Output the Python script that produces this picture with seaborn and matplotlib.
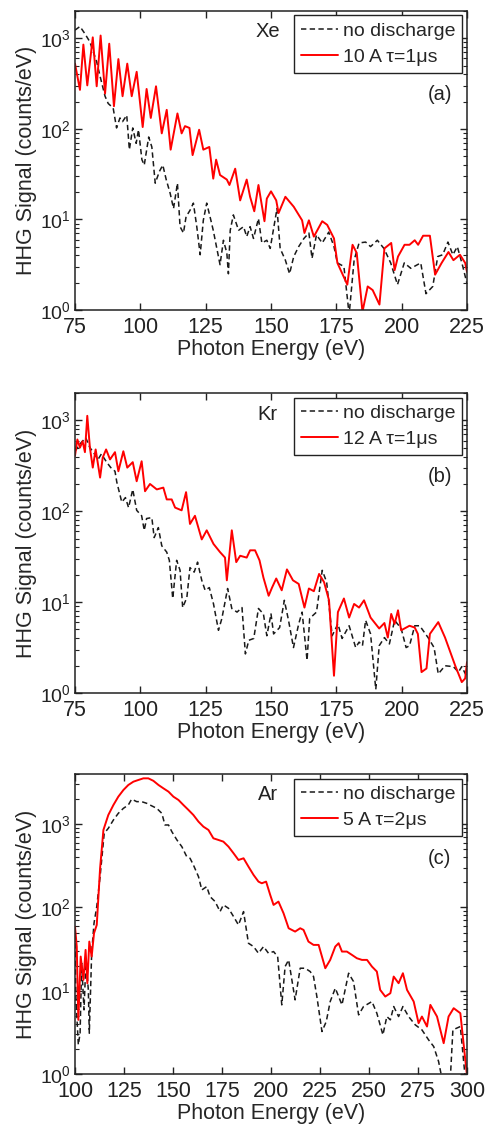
import numpy as np
import pandas as pd
import matplotlib
matplotlib.use("Agg")
import matplotlib.pyplot as plt
import seaborn as sns
from matplotlib.ticker import FixedLocator, LogLocator, NullFormatter

# ---------------- data (photon energy in eV, signal given as log10 of counts/eV) ----------------
xe_nodis_x = [75, 76.9, 78.8, 80.7, 83.3, 84.6, 86.5, 87.7, 89.6, 90.9, 92.2, 93.2, 94.8, 95.8, 97.1, 98.4, 99.3,
              100.6, 101.5, 103.2, 104.4, 105.7, 107.3, 108.6, 109.9, 111.4, 112.7, 114.2, 115.2, 116.5, 117.5, 119,
              120.3, 121.6, 122.9, 124.1, 125.4, 127, 127.9, 130.5, 131.8, 133.1, 133.7, 134.4, 135.6, 137.6, 139.5,
              140.7, 142, 143.3, 145.2, 146.5, 148.4, 149.7, 152.3, 153.5, 155.5, 157.1, 158.7, 160.6, 162.6, 164.5,
              165.7, 167.4, 169.6, 172.1, 174.1, 175.4, 177.9, 179.9, 181.8, 183.7, 186.2, 188.1, 190.7, 193.2, 195.8,
              198.4, 201, 203.5, 207.3, 209.3, 211.9, 213.8, 215.7, 217.7, 219.6, 221.3, 223.4, 225]
xe_nodis_log = [3.09, 3.13, 3.05, 2.96, 2.74, 2.58, 2.36, 2.28, 2.23, 2.01, 2.12, 2.08, 2.15, 1.77, 2.01, 1.84, 1.99,
                1.66, 1.60, 1.91, 1.80, 1.40, 1.53, 1.60, 1.44, 1.29, 1.12, 1.40, 0.92, 0.85, 1.03, 1.10,
                1.18, 0.92, 0.61, 0.99, 1.18, 0.99, 0.88, 0.50, 0.77, 0.63, 0.40, 0.88, 1.05, 0.88, 0.92,
                0.81, 0.92, 0.79, 1.01, 0.74, 0.77, 0.68, 1.12, 0.68, 0.55, 0.40, 0.59, 0.70, 0.79, 0.85,
                0.57, 0.83, 0.74, 0.86, 0.70, 0.52, 0.48, -0.05, 0.55, 0.74, 0.75, 0.70, 0.77, 0.68, 0.52,
                0.28, 0.52, 0.46, 0.52, 0.18, 0.26, 0.59, 0.61, 0.75, 0.61, 0.70, 0.48, 0.29]
xe_dis_x = [75, 76.9, 78.2, 79.7, 81.8, 83.3, 84.8, 86.5, 88.1, 89.9, 91.6, 93.2, 95, 96.7, 98.6, 100.9, 102.4, 104,
            106, 108.2, 110.1, 111.6, 114.2, 115.8, 117.1, 118.8, 120.0, 122.5, 124.1, 126.4, 127.9, 129, 130.5,
            133.1, 134.1, 136.3, 138.2, 140.7, 142, 143.6, 145.2, 147.5, 148.4, 150, 152, 152.9, 155.5, 158.7,
            161.9, 162.8, 164.5, 166.4, 169.6, 171.5, 174.1, 175.4, 179.2, 181.2, 182.8, 185, 187, 188.9, 191.5,
            193.4, 196, 197.3, 198.6, 201.1, 203, 205, 206.3, 208.2, 210.8, 212.8, 215.3, 217.9, 219.8, 222.3,
            224.3, 225]
xe_dis_log = [2.72, 2.43, 2.93, 2.48, 3.01, 2.47, 3.03, 2.39, 2.94, 2.25, 2.77, 2.36, 2.72, 2.36, 2.63, 2.02, 2.44,
              2.12, 2.47, 1.95, 2.21, 1.77, 2.17, 1.95, 2.03, 2.01, 1.71, 1.99, 1.77, 1.80, 1.45, 1.66, 1.49,
              1.44, 1.38, 1.56, 1.21, 1.44, 1.25, 1.09, 1.38, 0.98, 1.23, 1.31, 1.21, 1.07, 1.25, 1.14,
              0.99, 0.85, 0.99, 0.81, 0.98, 0.94, 0.79, 0.52, 0.28, 0.72, 0.63, -0.02, 0.26, 0.22, 0.06,
              0.68, 0.74, 0.44, 0.59, 0.72, 0.72, 0.77, 0.72, 0.82, 0.82, 0.39, 0.52, 0.64, 0.55, 0.61,
              0.52, 0.42]

kr_nodis_x = [75, 76.9, 79.1, 80.7, 82, 83.8, 85.1, 87.1, 88.7, 90.3, 91, 92.9, 94.3, 95.5, 97.1, 98.6, 100.5, 101.5,
              102.4, 104.4, 105.3, 106.9, 108.2, 110.1, 111.1, 112.4, 113.9, 115.2, 116.2, 117.8, 119, 120.6, 121.9,
              123.5, 124.8, 126.4, 128, 129.9, 131.2, 133.4, 135, 137, 138.9, 140.2, 141.5, 143.4, 145.2, 147.1,
              148.4, 150, 151, 153.3, 155.1, 156.7, 158.6, 160.6, 161.9, 163.8, 164.8, 167.4, 169.6, 171.3, 173.4,
              175.6, 177.2, 179.9, 182.4, 183.7, 185, 186.2, 188.1, 190.1, 191.4, 193.4, 195.3, 197.3, 199.8, 201.7,
              203, 205, 206.9, 210.1, 212.4, 214, 216.6, 219.8, 221.7, 223, 224.9]
kr_nodis_log = [2.66, 2.74, 2.81, 2.70, 2.65, 2.57, 2.63, 2.54, 2.48, 2.44, 2.32, 2.10, 2.15, 2.04, 2.24, 2.01, 1.95,
                1.79, 1.92, 1.93, 1.71, 1.82, 1.62, 1.55, 1.46, 1.04, 1.46, 1.35, 0.94, 1.05, 1.38, 1.33, 1.44,
                1.24, 1.13, 1.16, 0.98, 0.69, 0.82, 1.15, 0.93, 0.89, 0.94, 0.43, 0.58, 0.60, 0.93, 0.87,
                0.63, 0.87, 0.65, 0.72, 1.02, 0.80, 0.50, 0.76, 0.89, 0.36, 0.82, 0.89, 1.35, 1.22, 0.63,
                0.76, 0.60, 0.74, 0.50, 0.56, 0.52, 0.80, 0.65, 0.04, 0.52, 0.61, 0.54, 0.80, 0.71, 0.50,
                0.52, 0.74, 0.74, 0.61, 0.50, 0.21, 0.30, 0.29, 0.23, 0.29, 0.18]
kr_dis_x = [75, 75.9, 76.9, 77.9, 78.8, 79.7, 80.7, 81.8, 82.9, 84.6, 85.6, 86.9, 88.4, 90.3, 91.6, 93.5, 95, 97.1,
            98.6, 100.5, 101.8, 103.7, 106.3, 108.8, 110.1, 112, 113.3, 115.8, 117.5, 119, 120.9, 123.5, 125.4, 128,
            130.5, 132.4, 133.1, 135, 136.7, 138.2, 140.7, 142, 143.9, 145.6, 147.1, 149.1, 150.4, 152, 154.1, 156.1,
            158.4, 160.6, 162.8, 164.5, 166.4, 168.4, 170.3, 172.2, 174.1, 175.6, 177.9, 179.9, 181.8, 183.7, 185.6,
            188.1, 191.4, 193.4, 194.7, 196, 197.3, 198.6, 199.8, 203, 205, 206.2, 207.6, 209.5, 210.8, 214, 216.6,
            220.5, 223, 224.3, 225]
kr_dis_log = [2.61, 2.79, 2.70, 2.77, 2.65, 3.05, 2.70, 2.48, 2.68, 2.37, 2.59, 2.68, 2.57, 2.65, 2.44, 2.66, 2.48,
              2.54, 2.33, 2.55, 2.22, 2.30, 2.24, 2.26, 2.13, 2.13, 2.04, 2.01, 2.21, 1.86, 1.95, 1.69, 1.79, 1.64,
              1.55, 1.49, 1.24, 1.79, 1.44, 1.51, 1.49, 1.57, 1.57, 1.46, 1.27, 1.07, 1.16, 1.26, 1.13, 1.36,
              1.24, 1.20, 0.94, 1.15, 1.12, 1.31, 1.22, 1.02, 0.19, 0.89, 1.04, 0.83, 0.98, 0.94, 1.02,
              0.83, 0.71, 0.77, 0.61, 0.87, 0.76, 0.91, 0.69, 0.74, 0.72, 0.65, 0.23, 0.27, 0.65, 0.78, 0.61,
              0.30, 0.12, 0.16, 0.34]

ar_nodis_x = [100, 100.5, 101.7, 102.6, 103.4, 104.6, 105.6, 106.8, 107.3, 108.5, 109.7, 111.1, 112.8, 114.9, 117,
              119.6, 122.1, 124.7, 127.2, 128.9, 131.5, 134, 136.6, 139.1, 141.7, 144.3, 145.9, 147.7, 149.4, 152,
              154.5, 157, 158.7, 160.4, 163, 164.7, 167.2, 168.9, 171.5, 174, 175.7, 178.3, 180.9, 183.4, 186, 188.5,
              191.1, 193.6, 196.2, 198.7, 201.3, 203.4, 205.5, 207.2, 209, 212.3, 214.9, 217.4, 220, 221.7, 223.4,
              226, 228.2, 230.2, 232.8, 236.2, 239.6, 242.1, 244.7, 247.2, 251.5, 254, 257.1, 259.1, 260.9, 262.6,
              265.1, 267.3, 270.2, 273.6, 277, 280.4, 283, 285.5, 287.2, 291.5, 292.8, 296.6, 299.1]
ar_nodis_log = [1.57, 0.89, 0.35, 0.49, 1.33, 0.77, 1.37, 1.01, 0.49, 1.45, 1.81, 2.01, 2.37, 2.89, 2.95,
                3.05, 3.13, 3.19, 3.23, 3.30, 3.27, 3.27, 3.25, 3.22, 3.19, 3.13, 2.99, 2.99, 2.91, 2.81,
                2.73, 2.61, 2.59, 2.51, 2.37, 2.21, 2.25, 2.13, 2.07, 1.95, 2.03, 1.99, 1.89, 1.79, 1.95, 1.57,
                1.53, 1.45, 1.53, 1.45, 1.47, 1.41, 0.83, 1.29, 1.37, 0.89, 1.27, 1.27, 1.23, 1.17, 0.93,
                0.51, 0.63, 0.87, 1.03, 0.83, 1.21, 1.11, 0.71, 0.81, 0.87, 0.73, 0.47, 0.69, 0.65, 0.81,
                0.69, 0.81, 0.69, 0.59, 0.53, 0.41, 0.33, 0.15, -0.05, -0.05, 0.53, 0.57, -0.05]
ar_dis_x = [100, 100.9, 101.7, 102.9, 104.3, 105.4, 106.3, 107.3, 108.5, 109.7, 111.1, 112.8, 114.5, 117, 119.6,
            122.1, 124.7, 127.2, 129.8, 132.3, 134.9, 137.4, 140, 142.6, 145.1, 147.7, 150.2, 152.8, 155.3, 157.9,
            160.4, 163, 165.5, 168.1, 170.6, 173.2, 175.7, 178.3, 180.9, 183.4, 186, 188.5, 191.1, 193.6, 195.3,
            197.5, 199.6, 201.3, 203.8, 206.4, 209, 212.3, 214.9, 216.6, 219.1, 221.7, 224.3, 227.7, 230.2, 232.8,
            234.5, 236.2, 238.7, 241.3, 243.8, 246.4, 249, 251.5, 254, 255.7, 258.3, 260.9, 262.6, 265.1, 267.3,
            269.4, 272.8, 275.3, 277, 279.6, 281.3, 284.7, 288.1, 290.6, 293.2, 296.6, 300]
ar_dis_log = [1.77, 1.53, 0.65, 1.41, 1.13, 1.49, 1.09, 1.59, 1.41, 1.69, 1.79, 2.47, 2.93, 3.11, 3.23,
              3.33, 3.41, 3.47, 3.51, 3.53, 3.55, 3.55, 3.52, 3.47, 3.43, 3.39, 3.33, 3.29, 3.23, 3.17,
              3.11, 3.03, 2.97, 2.93, 2.83, 2.81, 2.79, 2.73, 2.65, 2.57, 2.59, 2.49, 2.39, 2.31, 2.29,
              2.31, 2.15, 2.03, 2.07, 1.93, 1.75, 1.71, 1.75, 1.73, 1.59, 1.55, 1.55, 1.27, 1.37, 1.53,
              1.57, 1.47, 1.47, 1.43, 1.39, 1.37, 1.37, 1.29, 1.23, 1.01, 0.93, 0.97, 1.17, 1.09, 1.21,
              1.01, 0.87, 0.61, 0.69, 0.57, 0.83, 0.69, 0.37, 0.69, 0.79, 0.73, -0.02]

gases = ["Xe", "Kr", "Ar"]
panel_tags = ["(a)", "(b)", "(c)"]
nodis_label = "no discharge"
dis_labels = ["10 A \u03c4=1\u03bcs", "12 A \u03c4=1\u03bcs", "5 A \u03c4=2\u03bcs"]
xticks_ab = [75, 100, 125, 150, 175, 200, 225]
xticks_c = [100, 125, 150, 175, 200, 225, 250, 275, 300]

# ---------------- style ----------------
sns.set_theme(style="ticks")
plt.rcParams['font.family'] = ['Liberation Sans', 'DejaVu Sans']
plt.rcParams['mathtext.fontset'] = 'custom'
plt.rcParams['mathtext.rm'] = 'Liberation Sans'
plt.rcParams['mathtext.it'] = 'Liberation Sans:italic'
plt.rcParams['axes.linewidth'] = 1.1
plt.rcParams['axes.edgecolor'] = '#222222'
plt.rcParams['xtick.color'] = '#222222'
plt.rcParams['ytick.color'] = '#222222'

fig = plt.figure(figsize=(4.87, 11.26), dpi=100)
W, H = 487, 1126
boxes = [(75, 11, 392, 299), (75, 393, 392, 300), (75, 774, 392, 300)]
panel_data = [
    (xe_nodis_x, xe_nodis_log, xe_dis_x, xe_dis_log, (75, 225), (1, 2000), xticks_ab),
    (kr_nodis_x, kr_nodis_log, kr_dis_x, kr_dis_log, (75, 225), (1, 2000), xticks_ab),
    (ar_nodis_x, ar_nodis_log, ar_dis_x, ar_dis_log, (100, 300), (1, 4000), xticks_c),
]

for i, (box, pdat) in enumerate(zip(boxes, panel_data)):
    l, t, w, h = box
    ax = fig.add_axes([l / W, 1 - (t + h) / H, w / W, h / H])
    nx, nlog, dx, dlog, xlim, ylim, xt = pdat
    df_n = pd.DataFrame({"E": nx, "S": 10 ** np.asarray(nlog, dtype=float)})
    df_d = pd.DataFrame({"E": dx, "S": 10 ** np.asarray(dlog, dtype=float)})
    sns.lineplot(data=df_n, x="E", y="S", ax=ax, color="#1a1a1a", lw=1.1, estimator=None, sort=False,
                 label=nodis_label)
    ax.lines[-1].set_dashes((3.5, 2.2))
    sns.lineplot(data=df_d, x="E", y="S", ax=ax, color="#ff0000", lw=1.4, estimator=None, sort=False,
                 label=dis_labels[i])
    ax.set_yscale("log")
    ax.set_xlim(*xlim)
    ax.set_ylim(*ylim)
    ax.xaxis.set_major_locator(FixedLocator(xt))
    ax.yaxis.set_major_locator(LogLocator(base=10, numticks=10))
    ax.yaxis.set_minor_locator(LogLocator(base=10, subs=np.arange(2, 10), numticks=20))
    ax.yaxis.set_minor_formatter(NullFormatter())
    ax.tick_params(which="both", direction="in", top=True, right=True)
    ax.tick_params(axis="x", which="major", labelsize=15.5, pad=5)
    ax.tick_params(axis="y", which="major", labelsize=14, pad=3)
    ax.tick_params(which="major", length=5, width=1)
    ax.tick_params(which="minor", length=3, width=0.8)
    ax.set_xlabel("Photon Energy (eV)", fontsize=15.5, labelpad=1)
    ax.set_ylabel("HHG Signal (counts/eV)", fontsize=15.5, labelpad=2)
    leg = ax.legend(loc="upper right", bbox_to_anchor=(0.988, 0.985), fontsize=14, frameon=True,
                    fancybox=False, framealpha=1, edgecolor="#222222", handlelength=1.9,
                    handletextpad=0.25, borderpad=0.35, labelspacing=0.45, borderaxespad=0)
    leg.get_frame().set_linewidth(1.0)
    ax.text(0.492, 0.93, gases[i], transform=ax.transAxes, fontsize=14.5, ha="center", va="center",
            color="#222222")
    ax.text(0.93, 0.72, panel_tags[i], transform=ax.transAxes, fontsize=14.5, ha="center", va="center",
            color="#222222")
    for sp in ax.spines.values():
        sp.set_visible(True)

fig.savefig("out.png", dpi=100, facecolor="white")
